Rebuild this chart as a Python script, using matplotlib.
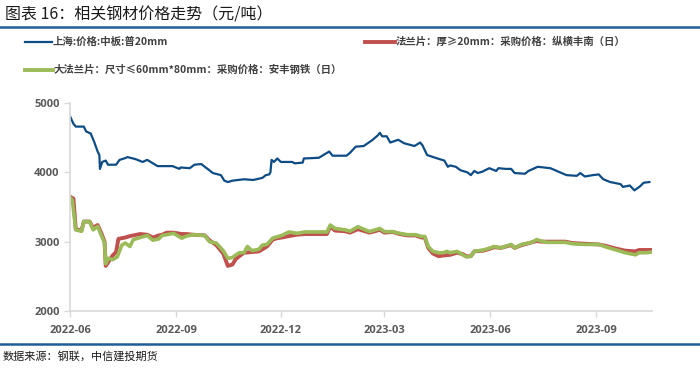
import pandas as pd
import matplotlib.pyplot as plt
import matplotlib.dates as mdates
from matplotlib.lines import Line2D

plt.rcParams['font.family'] = ['Noto Sans CJK SC', 'DejaVu Sans']

start = pd.Timestamp('2022-06-01')

# day offsets from start, values in 元/吨
blue_days = [0, 3, 5, 12, 14, 18, 21, 24, 25.5, 26, 28, 31, 33, 40, 43, 47, 50, 57, 63, 67, 70, 76,
             89, 95, 96, 104, 108, 114, 117, 121, 124, 131, 134, 137, 141, 151, 159, 167, 170, 173,
             174, 175, 177, 180, 183, 193, 195, 202, 203, 216, 225, 228, 240, 243, 248, 255, 262,
             267, 269, 271, 275, 278, 285, 290, 299, 304, 306, 310, 319, 325, 328, 330, 335, 339,
             345, 348, 351, 354, 358, 364, 370, 372, 378, 383, 386, 395, 398, 406, 417, 424, 431,
             440, 443, 447, 454, 459, 463, 469, 478, 480, 486, 490, 495, 498, 503]
blue_vals = [4810, 4700, 4660, 4660, 4590, 4560, 4440, 4300, 4250, 4050, 4150, 4170, 4110, 4110,
             4180, 4200, 4220, 4190, 4150, 4180, 4150, 4090, 4090, 4050, 4070, 4060, 4110, 4120,
             4080, 4030, 3990, 3960, 3880, 3860, 3880, 3900, 3890, 3920, 3960, 3970, 4000, 4180,
             4150, 4200, 4150, 4150, 4130, 4140, 4200, 4210, 4300, 4240, 4240, 4280, 4370, 4380,
             4460, 4530, 4570, 4520, 4520, 4430, 4470, 4420, 4380, 4430, 4390, 4250, 4200, 4170,
             4080, 4100, 4080, 4030, 4000, 3960, 4020, 3990, 4010, 4060, 4020, 4060, 4050, 4050,
             3990, 3980, 4020, 4080, 4060, 4010, 3960, 3950, 3990, 3940, 3960, 3970, 3900, 3860,
             3830, 3790, 3810, 3740, 3800, 3850, 3860]

red_days = [0, 3, 5, 10, 12, 17, 20, 24, 27, 30, 31, 33, 37, 40, 42, 48, 52, 55, 61, 67, 72, 77,
            80, 84, 90, 97, 101, 107, 117, 121, 127, 133, 137, 141, 144, 147, 151, 158, 164, 171,
            176, 180, 184, 190, 197, 204, 223, 226, 230, 239, 243, 250, 260, 269, 273, 280, 286,
            293, 300, 305, 308, 311, 315, 320, 324, 330, 336, 341, 344, 348, 351, 359, 365, 368,
            374, 383, 386, 392, 401, 405, 409, 414, 430, 436, 447, 459, 465, 474, 482, 491, 494,
            500, 505]
red_vals = [3650, 3620, 3180, 3160, 3290, 3290, 3200, 3240, 3130, 3000, 2650, 2700, 2800, 2850,
            3040, 3060, 3080, 3090, 3110, 3100, 3060, 3090, 3100, 3130, 3130, 3110, 3110, 3100,
            3090, 3020, 2950, 2830, 2650, 2670, 2750, 2790, 2840, 2850, 2860, 2930, 3030, 3050,
            3060, 3080, 3100, 3110, 3110, 3220, 3160, 3150, 3130, 3180, 3130, 3170, 3130, 3140,
            3110, 3090, 3090, 3060, 3060, 2910, 2830, 2790, 2800, 2810, 2840, 2820, 2790, 2790,
            2860, 2870, 2900, 2920, 2910, 2950, 2910, 2950, 2990, 3010, 3000, 3000, 3000, 2980,
            2970, 2960, 2940, 2900, 2870, 2860, 2880, 2880, 2880]

green_days = [0, 2, 5, 10, 12, 17, 20, 24, 27, 30, 31, 33, 37, 41, 45, 48, 52, 55, 61, 67, 72, 77,
              80, 84, 90, 97, 101, 107, 117, 121, 127, 133, 137, 141, 144, 147, 151, 154, 158, 164,
              167, 171, 176, 180, 184, 190, 197, 204, 223, 226, 230, 239, 243, 250, 260, 269, 273,
              280, 286, 293, 300, 305, 308, 311, 315, 320, 324, 327, 330, 336, 341, 344, 348, 351,
              359, 365, 368, 374, 383, 386, 392, 401, 405, 409, 414, 430, 436, 447, 459, 465, 474,
              482, 491, 494, 500, 505]
green_vals = [3640, 3600, 3170, 3150, 3290, 3290, 3170, 3220, 3100, 2980, 2680, 2760, 2740, 2780,
              2950, 2980, 2930, 3030, 3060, 3090, 3020, 3040, 3090, 3100, 3120, 3050, 3080, 3100,
              3090, 3000, 2980, 2870, 2760, 2770, 2810, 2840, 2840, 2930, 2870, 2890, 2950, 2960,
              3050, 3070, 3090, 3140, 3120, 3140, 3140, 3240, 3190, 3170, 3150, 3215, 3145, 3190,
              3145, 3145, 3120, 3100, 3100, 3075, 3075, 2930, 2860, 2840, 2840, 2860, 2840, 2860,
              2810, 2780, 2790, 2860, 2880, 2910, 2930, 2910, 2960, 2910, 2960, 2990, 3030, 3010,
              2990, 2990, 2970, 2960, 2960, 2925, 2880, 2840, 2810, 2840, 2840, 2850]

labels = ['上海:价格:中板:普20mm',
          '法兰片：厚≥20mm：采购价格：纵横丰南（日）',
          '大法兰片：尺寸≤60mm*80mm：采购价格：安丰钢铁（日）']
colors = ['#0E4C85', '#C0504D', '#9BBB59']


def to_dates(days):
    return [start + pd.Timedelta(days=d) for d in days]


fig = plt.figure(figsize=(7, 3.68), dpi=100)
ax = fig.add_axes([0.1, 0.155, 0.831, 0.565])

ax.plot(to_dates(blue_days), blue_vals, color=colors[0], lw=1.6)
ax.plot(to_dates(red_days), red_vals, color=colors[1], lw=2.8)
ax.plot(to_dates(green_days), green_vals, color=colors[2], lw=2.6)

ax.set_ylim(2000, 5000)
ax.set_yticks([2000, 3000, 4000, 5000])
ax.set_xlim(start, start + pd.Timedelta(days=505))
ax.xaxis.set_major_locator(mdates.MonthLocator(bymonth=[3, 6, 9, 12]))
ax.xaxis.set_major_formatter(mdates.DateFormatter('%Y-%m'))

for s in ['top', 'right']:
    ax.spines[s].set_visible(False)
for s in ['left', 'bottom']:
    ax.spines[s].set_color('#D9D9D9')
    ax.spines[s].set_linewidth(1.2)
ax.tick_params(colors='#D9D9D9', labelcolor='#595959', length=4, width=1)
for lab in ax.get_xticklabels() + ax.get_yticklabels():
    lab.set_family(['Open Sans', 'DejaVu Sans'])
    lab.set_fontweight('bold')
    lab.set_fontsize(8)
ax.tick_params(axis='x', pad=6)

# title and rules
fig.text(0.007, 0.958, '图表 16：相关钢材价格走势（元/吨）', fontsize=11.5, color='#1a1a1a', va='center')
fig.add_artist(Line2D([0, 1], [0.927, 0.927], color='#1F5D96', lw=1.8))
fig.add_artist(Line2D([0, 1], [0.065, 0.065], color='#1F5D96', lw=1.8))
fig.text(0.004, 0.032, '数据来源：钢联，中信建投期货', fontsize=8, style='italic',
         color='#1a1a1a', va='center')

# legend
leg = [(25, 52, 0.886, 0), (365, 395, 0.886, 1), (25, 53, 0.81, 2)]
for x0, x1, y, i in leg:
    fig.add_artist(Line2D([x0 / 700, x1 / 700], [y, y], color=colors[i],
                          lw=1.6 if i == 0 else 2.8))
    fig.text((x1 + 1) / 700, y, labels[i], fontsize=7.5, fontweight='bold',
             color='#404040', va='center')

fig.savefig('out.png', dpi=100)
